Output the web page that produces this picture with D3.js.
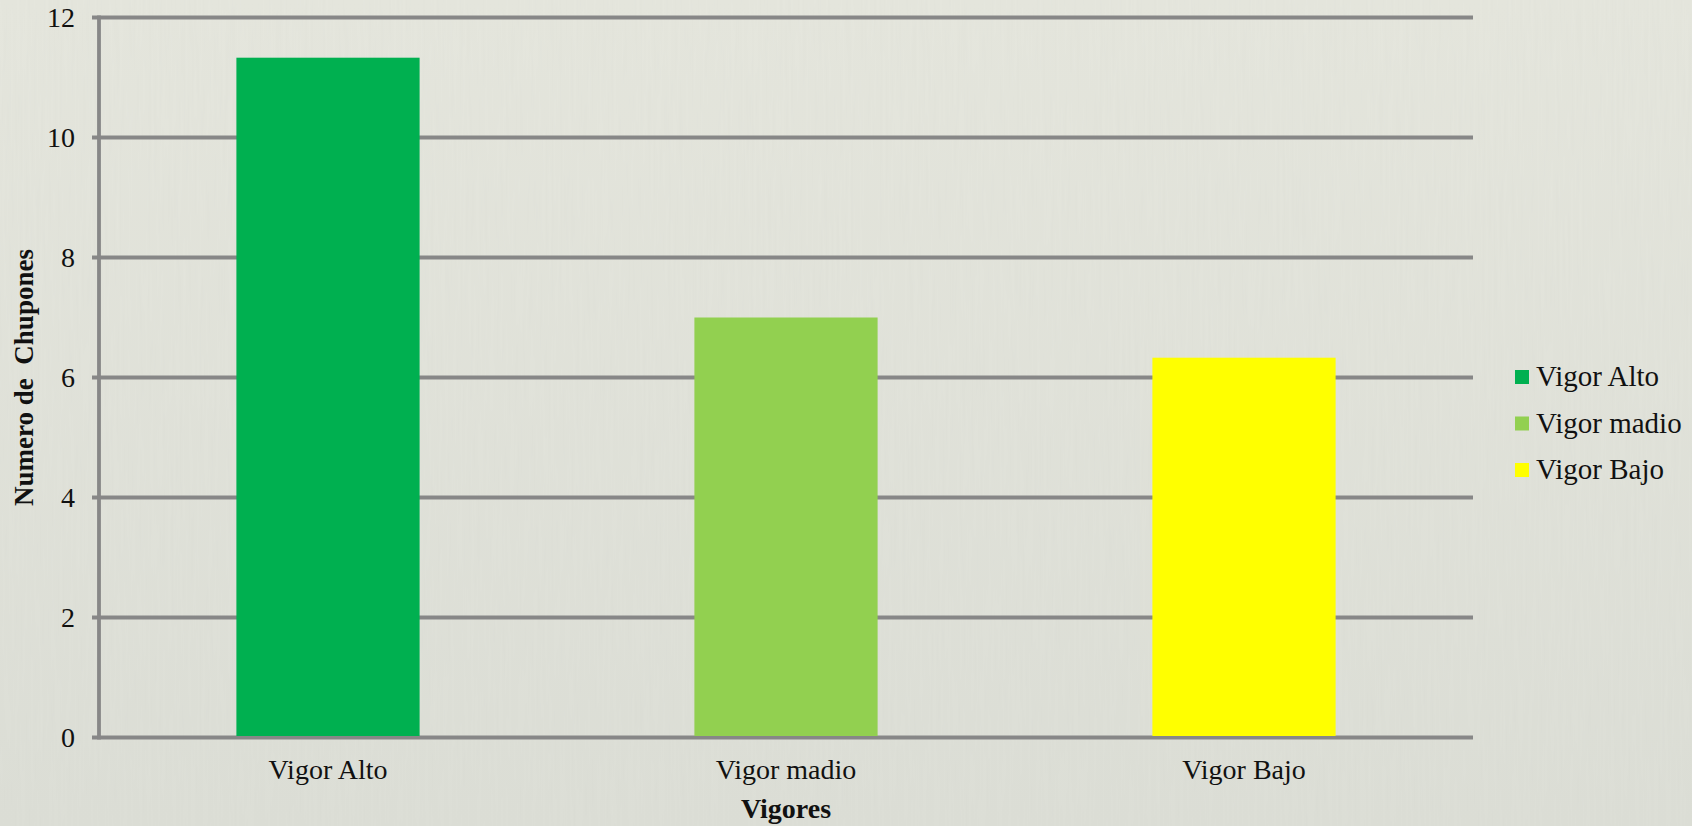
<!DOCTYPE html>
<html>
<head>
<meta charset="utf-8">
<script src="https://cdn.jsdelivr.net/npm/d3@7"></script>
<style>
  html, body { margin: 0; padding: 0; background: #e1e2da; }
  svg { display: block; }
  svg text { font-family: "Liberation Serif", "Times New Roman", serif; }
</style>
</head>
<body>
<div id="visual-container"></div>
<script>
const categories = ['Vigor Alto', 'Vigor madio', 'Vigor Bajo']
const values = [11.33, 7.0, 6.33]
const colors = ['#00B050', '#92D050', '#FFFF00']
const yTicks = [0, 2, 4, 6, 8, 10, 12]

const width = 1692
const height = 826
const margin = { left: 99, right: 219, top: 17.5, bottom: 88.5 }
const serif = '"Liberation Serif", "Times New Roman", serif'

const svg = d3.select('#visual-container')
  .append('svg')
  .attr('width', width)
  .attr('height', height)

// textured paper-ish background
const defs = svg.append('defs')
const grad = defs.append('linearGradient')
  .attr('id', 'bg').attr('x1', 0).attr('y1', 0).attr('x2', 0).attr('y2', 1)
grad.append('stop').attr('offset', '0%').attr('stop-color', '#e6e7de')
grad.append('stop').attr('offset', '100%').attr('stop-color', '#dddfd7')

const filt = defs.append('filter').attr('id', 'grain')
  .attr('x', 0).attr('y', 0).attr('width', '100%').attr('height', '100%')
filt.append('feTurbulence')
  .attr('type', 'fractalNoise')
  .attr('baseFrequency', '0.35 0.012')
  .attr('numOctaves', 2)
  .attr('seed', 4)
  .attr('result', 'noise')
filt.append('feColorMatrix')
  .attr('in', 'noise')
  .attr('type', 'matrix')
  .attr('values', '0 0 0 0 0.45  0 0 0 0 0.46  0 0 0 0 0.42  0 0 0 0.08 0')

svg.append('rect').attr('width', width).attr('height', height).attr('fill', 'url(#bg)')
svg.append('rect').attr('width', width).attr('height', height).attr('filter', 'url(#grain)')

const xScale = d3.scaleBand()
  .domain(categories)
  .range([margin.left, width - margin.right])
  .paddingInner(0.6)
  .paddingOuter(0.3)

const yScale = d3.scaleLinear()
  .domain([0, 12])
  .range([height - margin.bottom, margin.top])

const gridColor = '#878787'

// gridlines
svg.append('g')
  .selectAll('line')
  .data(yTicks)
  .enter()
  .append('line')
  .attr('x1', margin.left - 7)
  .attr('x2', width - margin.right)
  .attr('y1', d => yScale(d))
  .attr('y2', d => yScale(d))
  .attr('stroke', gridColor)
  .attr('stroke-width', 3.8)

// y axis
const yAxis = d3.axisLeft(yScale)
  .tickValues(yTicks)
  .tickSize(0)
  .tickPadding(24)
svg.append('g')
  .attr('transform', `translate(${margin.left}, 0)`)
  .call(yAxis)
  .attr('font-family', serif)
  .call(g => g.select('.domain').remove())
  .selectAll('text')
  .attr('font-size', 28)
  .attr('fill', '#111')

svg.append('line')
  .attr('x1', margin.left).attr('x2', margin.left)
  .attr('y1', yScale(12) - 2).attr('y2', yScale(0) + 2)
  .attr('stroke', gridColor)
  .attr('stroke-width', 3.8)

// bars
svg.append('g')
  .selectAll('rect')
  .data(values)
  .enter()
  .append('rect')
  .attr('x', (d, i) => xScale(categories[i]))
  .attr('width', xScale.bandwidth())
  .attr('y', d => yScale(d))
  .attr('height', d => yScale(0) - yScale(d) - 1.5)
  .attr('fill', (d, i) => colors[i])

// x axis labels
const xAxis = d3.axisBottom(xScale).tickSize(0).tickPadding(22)
svg.append('g')
  .attr('transform', `translate(0, ${yScale(0)})`)
  .call(xAxis)
  .attr('font-family', serif)
  .call(g => g.select('.domain').remove())
  .selectAll('text')
  .attr('font-size', 28)
  .attr('fill', '#111')

// axis titles
svg.append('text')
  .attr('x', (margin.left + width - margin.right) / 2)
  .attr('y', 818)
  .attr('text-anchor', 'middle')
  .attr('font-family', serif)
  .attr('font-size', 28)
  .attr('font-weight', 'bold')
  .attr('fill', '#111')
  .text('Vigores')

svg.append('text')
  .attr('transform', `translate(33, ${yScale(6)}) rotate(-90)`)
  .attr('text-anchor', 'middle')
  .attr('font-family', serif)
  .attr('font-size', 27)
  .attr('font-weight', 'bold')
  .attr('fill', '#111')
  .style('white-space', 'pre')
  .text('Numero de  Chupones')

// legend
const legend = svg.append('g').attr('transform', 'translate(1515, 370)')
const rows = legend.selectAll('g')
  .data(categories)
  .enter()
  .append('g')
  .attr('transform', (d, i) => `translate(0, ${i * 46.5})`)
rows.append('rect')
  .attr('width', 14).attr('height', 14)
  .attr('fill', (d, i) => colors[i])
rows.append('text')
  .attr('x', 21).attr('y', 16)
  .attr('font-family', serif)
  .attr('font-size', 29)
  .attr('fill', '#111')
  .text(d => d)
</script>
</body>
</html>
